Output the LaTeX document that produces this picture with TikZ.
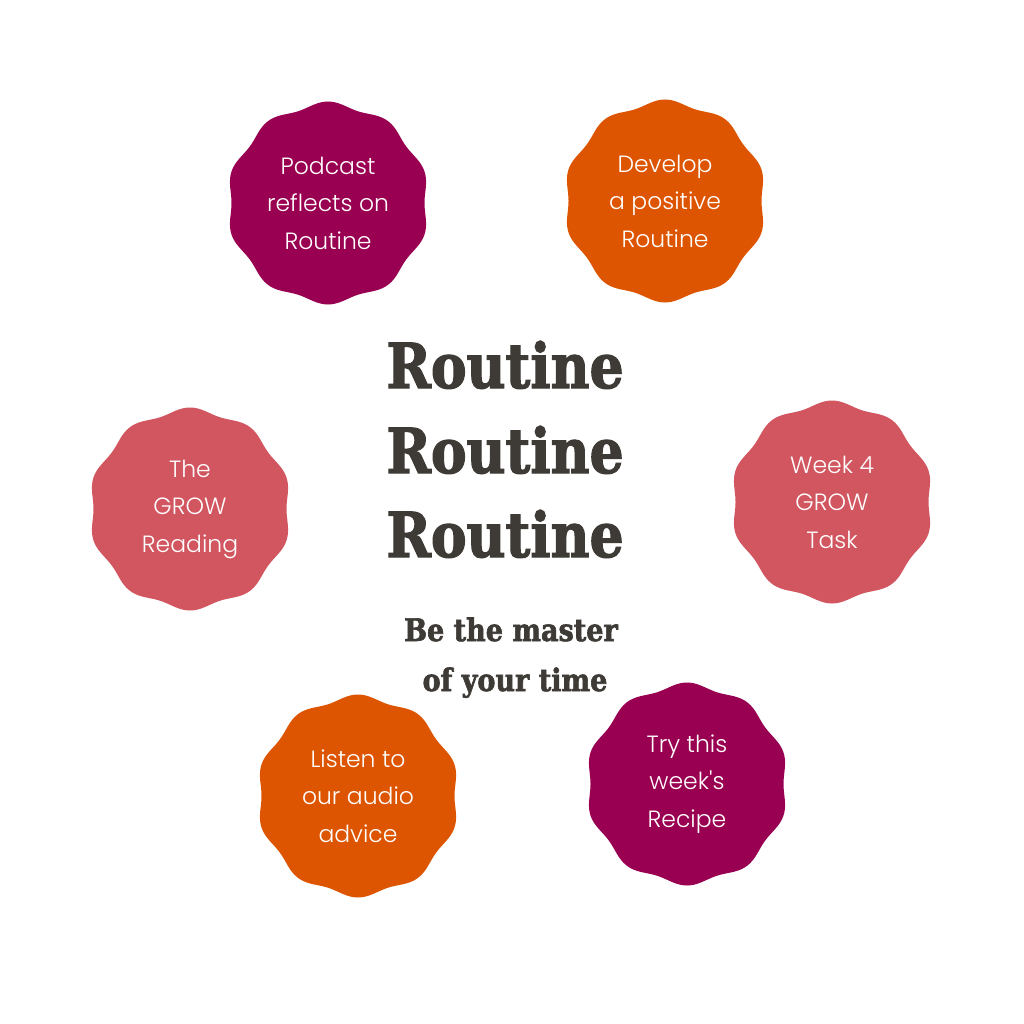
\documentclass[tikz,border=0pt]{standalone}
\usepackage{fontspec}
\usepackage{graphicx}
\setmainfont{Poppins Light}
\newfontfamily\slabfont{DejaVu Serif Condensed}[BoldFeatures={FakeBold=2}]
\usetikzlibrary{backgrounds}
\definecolor{plum}{HTML}{990052}
\definecolor{rust}{HTML}{DD5500}
\definecolor{rose}{HTML}{D15660}
\definecolor{ink}{HTML}{3E3A36}
\newcommand{\wavy}[2]{\fill[#2, shift={(#1)}] plot[domain=0:360, samples=241] (\x:{99-2.5*cos(10*\x)}) -- cycle;}
\tikzset{
  badge/.style={text=white, align=center, font=\fontsize{23.5}{37.5}\selectfont},
  title/.style={text=ink, anchor=base, font=\slabfont\bfseries\fontsize{62}{62}\selectfont},
  motto/.style={text=ink, anchor=base, font=\slabfont\bfseries\fontsize{31}{31}\selectfont}
}

\begin{document}
\begin{tikzpicture}[x=1pt, y=-1pt]
    \useasboundingbox (0,0) rectangle (1024,1024);
    \path
    node[badge] (podcast) at (328,203) {Podcast\\reflects on\\Routine}
    node[badge] (develop) at (665,201) {Develop\\a positive\\Routine}
    node[badge] (reading) at (190,509) {The\\GROW\\Reading}
    node[badge] (task) at (832,502) {Week 4\\GROW\\Task}
    node[badge] (listen) at (358,796) {Listen to\\our audio\\advice}
    node[badge] (recipe) at (687,784) {Try this\\week\textquotesingle s\\Recipe};

    \path
    node[title] (r1) at (505,388) {\scalebox{0.96}[1]{Routine}}
    node[title] (r2) at (505,473) {\scalebox{0.96}[1]{Routine}}
    node[title] (r3) at (505,557) {\scalebox{0.96}[1]{Routine}}
    node[motto] (m1) at (511,641) {\scalebox{0.97}[1]{Be the master}}
    node[motto] (m2) at (515,691) {\scalebox{0.97}[1]{of your time}};

    \begin{pgfonlayer}{background}
    \fill[white] (0,0) rectangle (1024,1024);
    \wavy{podcast}{plum}
    \wavy{develop}{rust}
    \wavy{reading}{rose}
    \wavy{task}{rose}
    \wavy{listen}{rust}
    \wavy{recipe}{plum}
    \end{pgfonlayer}
\end{tikzpicture}
\end{document}
